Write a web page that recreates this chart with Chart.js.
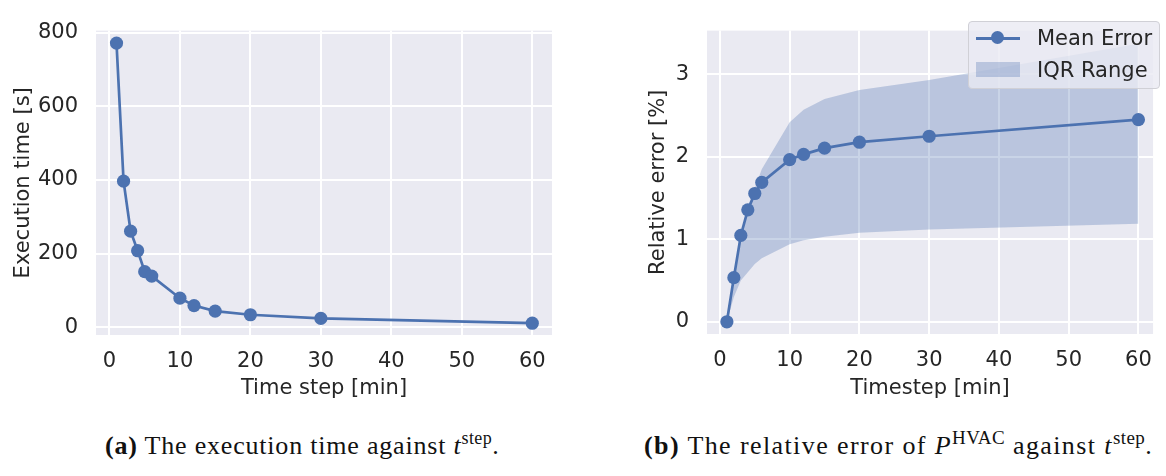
<!DOCTYPE html>
<html lang="en">
<head>
<meta charset="UTF-8">
<title>Execution time and relative error against time step</title>
<script src="https://cdn.jsdelivr.net/npm/chart.js"></script>
<style>
  body { margin: 0; background: #fff; width: 1166px; height: 476px; overflow: hidden; position: relative; }
  .box { position: absolute; top: 0; height: 420px; }
  #boxA { left: 0; width: 560px; }
  #boxB { left: 600px; width: 566px; }
  .legend {
    position: absolute; left: 968px; top: 21px; width: 190px; height: 66px;
    background: rgba(234, 234, 242, 0.8); border: 1px solid #d0d0d6; border-radius: 4px;
    font-family: "DejaVu Sans", sans-serif; font-size: 21px; color: #262626;
  }
  .legend .row { position: absolute; left: 0; height: 24px; line-height: 24px; }
  .legend .label { position: absolute; left: 68px; white-space: nowrap; }
  .legend .line { position: absolute; left: 7px; top: 11px; width: 44px; height: 2.7px; background: #4c72b0; }
  .legend .dot { position: absolute; left: 22px; top: 5px; width: 13px; height: 13px; border-radius: 50%; background: #4c72b0; }
  .legend .patch { position: absolute; left: 7px; top: 4px; width: 44px; height: 15px; background: rgba(76, 114, 176, 0.3); }
  .caption {
    position: absolute; top: 431px; font-family: "Liberation Serif", "DejaVu Serif", serif;
    font-size: 26px; letter-spacing: 0.8px; color: #111; white-space: nowrap;
  }
  .caption sup { font-size: 18px; vertical-align: 10px; line-height: 0; letter-spacing: 0.4px; }
  #capB { letter-spacing: 1.4px; }
  #capB sup { font-size: 19px; }
</style>
</head>
<body>
<div class="box" id="boxA"><canvas id="timeChart"></canvas></div>
<div class="box" id="boxB"><canvas id="errorChart"></canvas></div>
<div class="legend">
  <div class="row" style="top:4px; width:190px;"><span class="line"></span><span class="dot"></span><span class="label">Mean Error</span></div>
  <div class="row" style="top:36px; width:190px;"><span class="patch"></span><span class="label">IQR Range</span></div>
</div>
<div class="caption" style="left:105px;"><b>(a)</b> The execution time against <i>t</i><sup>step</sup>.</div>
<div class="caption" id="capB" style="left:644px;"><b>(b)</b> The relative error of <i>P</i><sup>HVAC</sup> against <i>t</i><sup>step</sup>.</div>
<script>
const timeSteps = [1, 2, 3, 4, 5, 6, 10, 12, 15, 20, 30, 60];
const execTime = [772, 397, 261, 208, 151, 139, 79, 59, 44, 34, 24, 11];
const meanError = [0, 0.535, 1.047, 1.357, 1.555, 1.69, 1.965, 2.03, 2.105, 2.177, 2.249, 2.45];
const iqrLow = [0, 0.3, 0.5, 0.6, 0.7, 0.77, 0.94, 0.99, 1.03, 1.08, 1.12, 1.19];
const iqrHigh = [0, 0.5, 1.0, 1.4, 1.62, 1.85, 2.42, 2.57, 2.70, 2.81, 2.93, 3.37];
const xTicks = [0, 10, 20, 30, 40, 50, 60];
const timeTicks = [0, 200, 400, 600, 800];
const errorTicks = [0, 1, 2, 3];

const blue = '#4c72b0';
const textColor = '#262626';
const font = { family: 'DejaVu Sans', size: 21 };

function points(ys) {
  return timeSteps.map((x, i) => ({ x: x, y: ys[i] }));
}

// seaborn-like grey panel behind the plot area
const plotBg = {
  id: 'plotBg',
  beforeDraw(chart) {
    const { ctx, chartArea: a } = chart;
    ctx.save();
    ctx.fillStyle = '#eaeaf2';
    ctx.fillRect(a.left, a.top, a.right - a.left, a.bottom - a.top);
    ctx.restore();
  }
};

function makeAxis(min, max, ticks, title, fit, titlePad, horizontal) {
  return {
    type: 'linear',
    min: min,
    max: max,
    afterBuildTicks: s => { s.ticks = ticks.map(v => ({ value: v })); },
    afterFit: s => { if (horizontal) s.height = fit; else s.width = fit; },
    grid: { color: '#ffffff', lineWidth: 2, drawTicks: false },
    border: { display: false },
    ticks: { font: font, color: textColor, padding: horizontal ? 14 : 18, maxRotation: 0 },
    title: { display: true, text: title, font: font, color: textColor, padding: titlePad }
  };
}

function lineSet(label, ys) {
  return {
    label: label,
    data: points(ys),
    borderColor: blue,
    backgroundColor: blue,
    borderWidth: 2.7,
    pointRadius: 6.6,
    pointHoverRadius: 6.6,
    pointBorderWidth: 0,
    fill: false
  };
}

const common = {
  responsive: true,
  maintainAspectRatio: false,
  animation: false,
  plugins: { legend: { display: false }, tooltip: { enabled: false } }
};

new Chart(document.getElementById('timeChart'), {
  type: 'line',
  data: { datasets: [lineSet('Execution time', execTime)] },
  options: {
    ...common,
    layout: { padding: { top: 12, right: 8, left: 0, bottom: 0 } },
    scales: {
      x: makeAxis(-1.91, 62.8, xTicks, 'Time step [min]', 85, { top: 0, bottom: 19 }, true),
      y: makeAxis(-21, 806, timeTicks, 'Execution time [s]', 96, { top: 11, bottom: 0 }, false)
    }
  },
  plugins: [plotBg]
});

new Chart(document.getElementById('errorChart'), {
  type: 'line',
  data: {
    datasets: [
      lineSet('Mean Error', meanError),
      { label: 'IQR low', data: points(iqrLow), borderWidth: 0, pointRadius: 0, fill: false },
      { label: 'IQR Range', data: points(iqrHigh), borderWidth: 0, pointRadius: 0,
        backgroundColor: 'rgba(76, 114, 176, 0.3)', fill: 1 }
    ]
  },
  options: {
    ...common,
    layout: { padding: { top: 11, right: 0, left: 0, bottom: 0 } },
    scales: {
      x: makeAxis(-1.85, 62.1, xTicks, 'Timestep [min]', 86, { top: 0, bottom: 19 }, true),
      y: makeAxis(-0.148, 3.53, errorTicks, 'Relative error [%]', 107, { top: 46, bottom: 0 }, false)
    }
  },
  plugins: [plotBg]
});
</script>
</body>
</html>
